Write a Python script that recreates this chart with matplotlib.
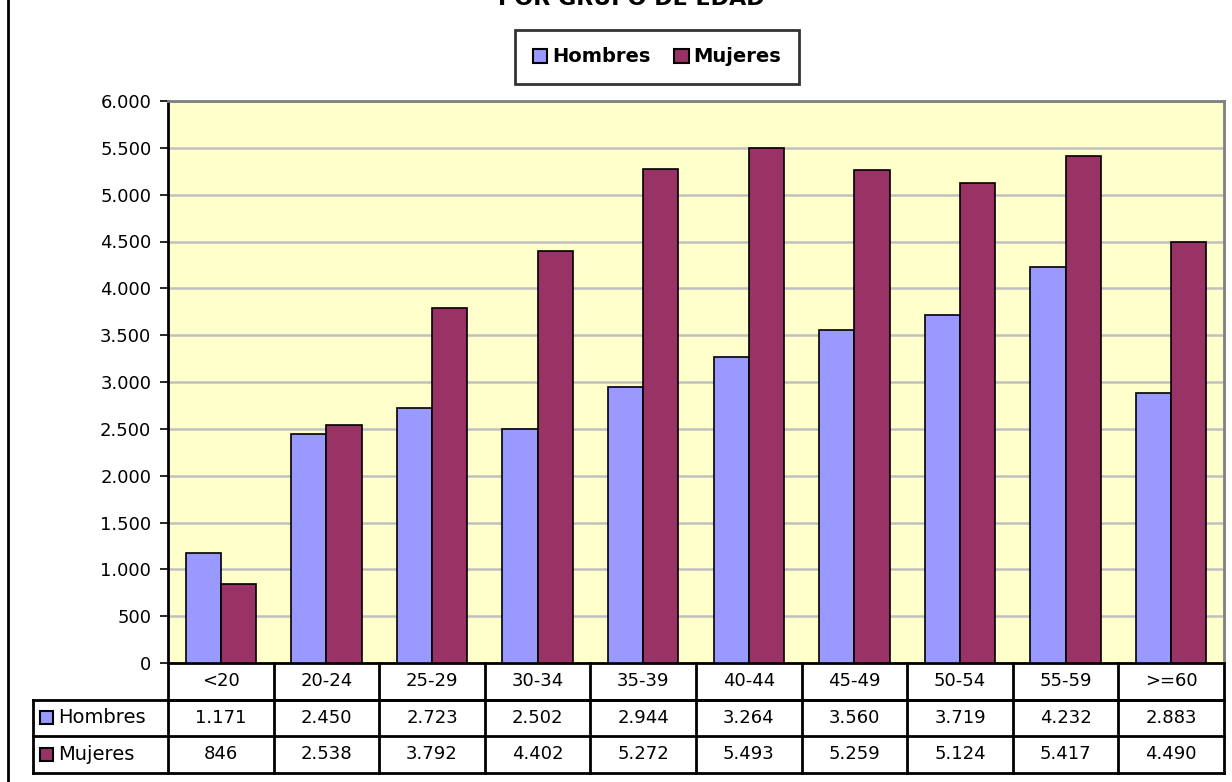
import numpy as np
import matplotlib.pyplot as plt
from matplotlib.patches import Rectangle
from matplotlib.lines import Line2D
import matplotlib.transforms as mtransforms

# Datos
grupos = ['<20', '20-24', '25-29', '30-34', '35-39', '40-44', '45-49', '50-54', '55-59', '>=60']
hombres = [1171, 2450, 2723, 2502, 2944, 3264, 3560, 3719, 4232, 2883]
mujeres = [846, 2538, 3792, 4402, 5272, 5493, 5259, 5124, 5417, 4490]
series = ['Hombres', 'Mujeres']
colores = ['#9999FF', '#993366']
yticks = list(range(0, 6001, 500))


def fmt(v):
    return f"{v:,}".replace(',', '.')


W, H = 1232, 782
fig = plt.figure(figsize=(W / 100, H / 100), dpi=100)
plt.rcParams['font.family'] = ['DejaVu Sans']

# Area de trazado (en pixeles)
L, R, T, B = 168, 1224, 101, 663
ax = fig.add_axes([L / W, 1 - B / H, (R - L) / W, (B - T) / H])
ax.set_facecolor('#FFFFCC')

x = np.arange(len(grupos))
w = 1 / 3
ax.bar(x - w / 2, hombres, w, color=colores[0], edgecolor='black', linewidth=1.2, zorder=3)
ax.bar(x + w / 2, mujeres, w, color=colores[1], edgecolor='black', linewidth=1.2, zorder=3)

ax.set_xlim(-0.5, len(grupos) - 0.5)
ax.set_ylim(0, 6000)
ax.set_yticks(yticks)
ax.set_yticklabels([fmt(v) for v in yticks], fontsize=13)
ax.set_xticks([])
ax.tick_params(axis='y', direction='out', length=6, width=1.2, pad=6)
ax.grid(axis='y', color='#C0C0C0', linewidth=1.8, zorder=0)

ax.spines['left'].set_color('black')
ax.spines['left'].set_linewidth(2)
ax.spines['bottom'].set_color('black')
ax.spines['bottom'].set_linewidth(2)
ax.spines['top'].set_color('#808080')
ax.spines['top'].set_linewidth(2)
ax.spines['right'].set_color('#808080')
ax.spines['right'].set_linewidth(2)

# Tabla de datos (x en datos, y en ejes)
tr = mtransforms.blended_transform_factory(ax.transData, ax.transAxes)
rh = 36.5 / (B - T)
lab_x = -0.5 - (L - 33) / ((R - L) / len(grupos))
lw = 2


def linea(xs, ys):
    ax.add_line(Line2D(xs, ys, transform=tr, color='black', lw=lw, clip_on=False))


# lineas horizontales
linea([-0.5, len(grupos) - 0.5], [-rh, -rh])
linea([lab_x, len(grupos) - 0.5], [-rh, -rh])
linea([lab_x, len(grupos) - 0.5], [-2 * rh, -2 * rh])
linea([lab_x, len(grupos) - 0.5], [-3 * rh, -3 * rh])
# lineas verticales
for i in range(len(grupos) + 1):
    linea([i - 0.5, i - 0.5], [0, -3 * rh])
linea([lab_x, lab_x], [-rh, -3 * rh])

for i, g in enumerate(grupos):
    ax.text(i, -0.5 * rh, g, transform=tr, ha='center', va='center', fontsize=13)
    ax.text(i, -1.5 * rh, fmt(hombres[i]), transform=tr, ha='center', va='center', fontsize=13)
    ax.text(i, -2.5 * rh, fmt(mujeres[i]), transform=tr, ha='center', va='center', fontsize=13)

sq = 13
for k, (s, c) in enumerate(zip(series, colores)):
    yc = 1 - (B + 36.5 * (k + 1.5)) / H
    fig.patches.append(Rectangle((40 / W, yc - sq / 2 / H), sq / W, sq / H, transform=fig.transFigure,
                                 facecolor=c, edgecolor='black', lw=1.5))
    fig.text(58 / W, yc, s, ha='left', va='center', fontsize=14)

# Marco izquierdo
fig.add_artist(Line2D([8 / W, 8 / W], [0, 1], transform=fig.transFigure, color='black', lw=2))

# Titulo (cortado en el borde superior, como en el original)
fig.text(631 / W, 1 + 1 / H, 'POR GRUPO DE EDAD', ha='center', va='center', fontsize=16, fontweight='bold')

# Leyenda
leg_handles = [Rectangle((0, 0), 1, 1, facecolor=c, edgecolor='black', lw=1.5) for c in colores]
leg = fig.legend(leg_handles, series, loc='center', bbox_to_anchor=(657 / W, 1 - 57 / H), ncol=2,
                 prop={'weight': 'bold', 'size': 14}, frameon=True, fancybox=False, edgecolor='black',
                 handlelength=0.75, handleheight=0.75, handletextpad=0.25, columnspacing=1.2,
                 borderpad=0.9, borderaxespad=0)
leg.get_frame().set_linewidth(2)

fig.savefig('out.png', dpi=100)
